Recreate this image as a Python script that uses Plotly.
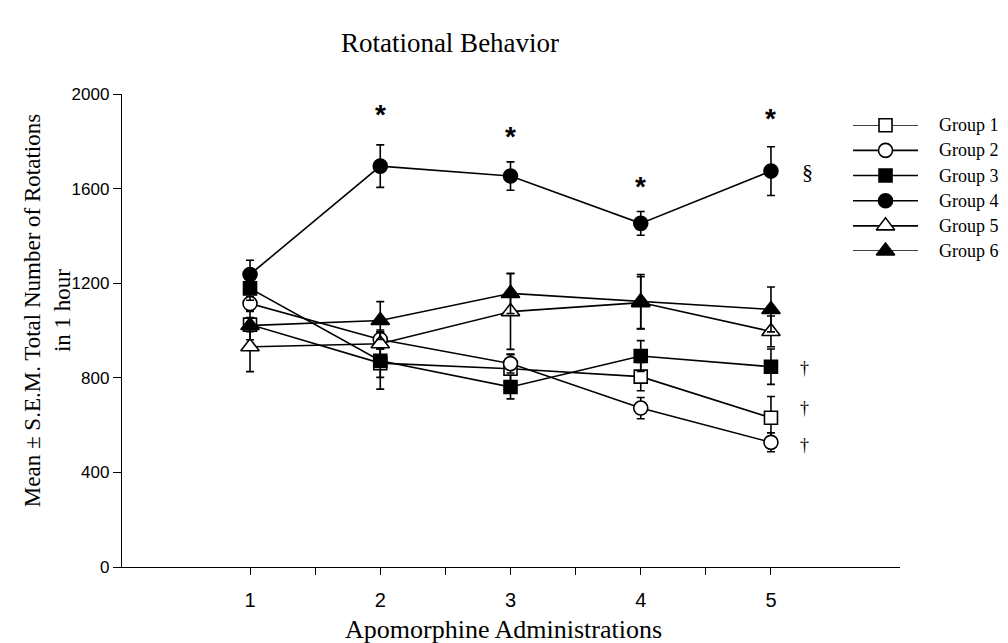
import plotly.graph_objects as go

administrations = [1, 2, 3, 4, 5]
group_names = ["Group 1", "Group 2", "Group 3", "Group 4", "Group 5", "Group 6"]

group1_mean = [1025, 862, 838, 805, 631]
group2_mean = [1114, 962, 860, 672, 527]
group3_mean = [1178, 872, 761, 892, 847]
group4_mean = [1237, 1695, 1653, 1453, 1674]
group5_mean = [931, 944, 1080, 1118, 996]
group6_mean = [1021, 1042, 1157, 1122, 1089]

group1_sem = [30, 60, 60, 60, 90]
group2_sem = [30, 40, 40, 45, 40]
group3_sem = [50, 120, 50, 65, 75]
group4_sem = [60, 90, 60, 50, 103]
group5_sem = [105, 50, 160, 110, 65]
group6_sem = [60, 80, 85, 115, 95]

means = [group1_mean, group2_mean, group3_mean, group4_mean, group5_mean, group6_mean]
sems = [group1_sem, group2_sem, group3_sem, group4_sem, group5_sem, group6_sem]
fills = ["white", "white", "black", "black", "white", "black"]
symbols_base = ["square", "circle", "square", "circle", "triangle-up", "triangle-up"]
sizes = [13, 14, 13, 14, 16, 16]

# significance marks
star_x = [2, 3, 4, 5]
star_y = [1915, 1820, 1610, 1895]
section_x = [5.22]
section_y = [1674]
dagger_x = [5.21, 5.21, 5.21]
dagger_y = [843, 674, 517]

fig = go.Figure()

for i in range(6):
    fig.add_trace(go.Scatter(
        x=administrations, y=means[i], mode="lines+markers",
        line=dict(color="black", width=1.6),
        marker=dict(symbol=symbols_base[i], size=sizes[i], color=fills[i],
                    line=dict(color="black", width=1.6)),
        error_y=dict(type="data", array=sems[i], visible=True,
                     color="black", thickness=1.6, width=4),
        showlegend=False, xaxis="x", yaxis="y"))

# legend drawn on its own small axis
for i in range(6):
    row = 6 - i
    fig.add_trace(go.Scatter(
        x=[0, 1], y=[row, row], mode="lines",
        line=dict(color="black", width=1.6),
        showlegend=False, xaxis="x2", yaxis="y2", hoverinfo="skip"))
    fig.add_trace(go.Scatter(
        x=[0.5], y=[row], mode="markers", cliponaxis=False,
        marker=dict(symbol=symbols_base[i], size=sizes[i], color=fills[i],
                    line=dict(color="black", width=1.6)),
        showlegend=False, xaxis="x2", yaxis="y2", hoverinfo="skip"))

annotations = []
for i in range(6):
    annotations.append(dict(x=1.3, y=6 - i, xref="x2", yref="y2", text=group_names[i],
                            showarrow=False, xanchor="left", yanchor="middle",
                            font=dict(family="Liberation Serif", size=18, color="black")))
for xs, ys in zip(star_x, star_y):
    annotations.append(dict(x=xs, y=ys, xref="x", yref="y", text="<b>*</b>", showarrow=False,
                            font=dict(family="Liberation Sans", size=28, color="black")))
for xs, ys in zip(section_x, section_y):
    annotations.append(dict(x=xs, y=ys, xref="x", yref="y", text="§", showarrow=False,
                            xanchor="left", font=dict(family="Liberation Serif", size=22, color="black")))
for xs, ys in zip(dagger_x, dagger_y):
    annotations.append(dict(x=xs, y=ys, xref="x", yref="y", text="†", showarrow=False,
                            xanchor="left", font=dict(family="Liberation Serif", size=18, color="black")))

annotations.append(dict(x=-0.0854, y=0.541, xref="paper", yref="paper",
                        text="Mean ± S.E.M. Total Number of Rotations<br>in 1 hour",
                        textangle=-90, showarrow=False, xanchor="center", yanchor="middle",
                        font=dict(family="Liberation Serif", size=23, color="black")))
annotations.append(dict(x=0.435, y=-0.098, xref="paper", yref="paper",
                        text="Apomorphine Administrations", showarrow=False,
                        xanchor="center", yanchor="top",
                        font=dict(family="Liberation Serif", size=26, color="black")))

fig.update_layout(
    width=1000, height=635,
    margin=dict(l=114, r=8, t=86, b=76),
    paper_bgcolor="white", plot_bgcolor="white",
    title=dict(text="Rotational Behavior", x=0.442, xanchor="center", y=0.946, yanchor="middle",
               font=dict(family="Liberation Serif", size=27, color="black")),
    xaxis=dict(domain=[0, 0.886], range=[0.017, 5.99], showgrid=False, zeroline=False,
               showline=True, linecolor="black", linewidth=1.3,
               tickmode="array", tickvals=[1, 1.5, 2, 2.5, 3, 3.5, 4, 4.5, 5],
               ticktext=["1", "", "2", "", "3", "", "4", "", "5"],
               ticks="outside", ticklen=7, tickwidth=1.3, tickcolor="black",
               ticklabelstandoff=8,
               tickfont=dict(family="Liberation Sans", size=20, color="black")),
    yaxis=dict(range=[0, 2000], showgrid=False, zeroline=False,
               showline=True, linecolor="black", linewidth=1.3,
               tickmode="array", tickvals=[0, 400, 800, 1200, 1600, 2000],
               ticks="outside", ticklen=8, tickwidth=1.3, tickcolor="black",
               tickfont=dict(family="Liberation Sans", size=17, color="black")),
    xaxis2=dict(domain=[0.8326, 0.9954], range=[0, 2.2], visible=False, anchor="y2"),
    yaxis2=dict(domain=[0.668, 0.934], range=[1, 6], visible=False, anchor="x2"),
    annotations=annotations,
)

fig.write_html("out.html")
